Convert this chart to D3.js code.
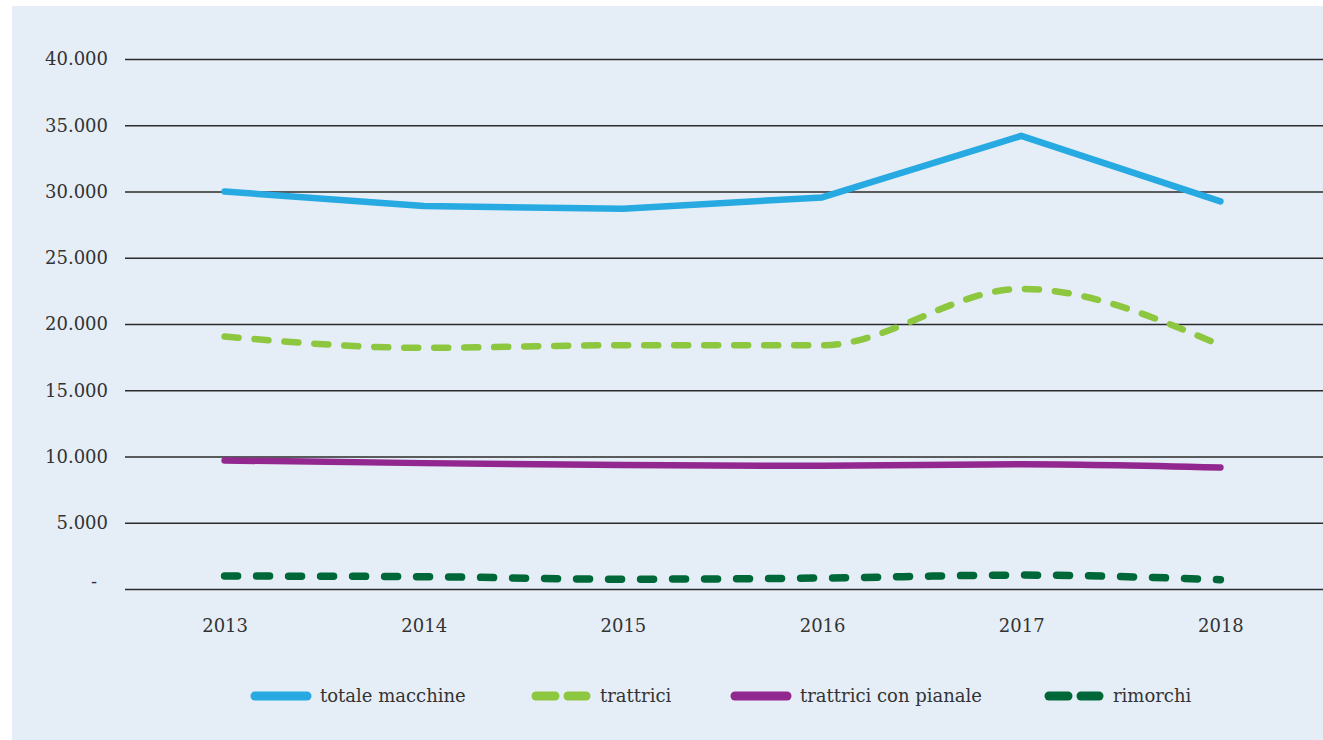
<!DOCTYPE html>
<html>
<head>
<meta charset="utf-8">
<script src="https://cdn.jsdelivr.net/npm/d3@7"></script>
<style>
  body { margin: 0; background: #fff; }
  svg { display: block; }
</style>
</head>
<body>
<div id="chart"></div>
<script>
// data
const years = ["2013", "2014", "2015", "2016", "2017", "2018"];
const totaleMacchine = [30000, 28900, 28700, 29550, 34200, 29250];
const trattrici = [19050, 18200, 18400, 18400, 22650, 18400];
const trattriciConPianale = [9700, 9500, 9350, 9300, 9420, 9170];
const rimorchi = [980, 930, 740, 830, 1050, 700];
const yTicks = [0, 5000, 10000, 15000, 20000, 25000, 30000, 35000, 40000];

const seriesNames = ["totale macchine", "trattrici", "trattrici con pianale", "rimorchi"];
const seriesValues = [totaleMacchine, trattrici, trattriciConPianale, rimorchi];
const seriesColors = ["#27aae1", "#8dc63f", "#92278f", "#006838"];
const seriesDash = [null, "14,16", null, "13,19"];

const w = 1323;
const h = 740;
const font = "'DejaVu Serif', serif";
const fontSize = "18px";

const svg = d3.select("#chart")
              .append("svg")
              .attr("width", w)
              .attr("height", h);

// light blue panel
svg.append("rect")
   .attr("x", 12)
   .attr("y", 6)
   .attr("width", w - 12)
   .attr("height", h - 6)
   .attr("fill", "#e5eef7");

const xScale = d3.scalePoint()
                 .domain(years)
                 .range([125, 1320])
                 .padding(0.5);

const yScale = d3.scaleLinear()
                 .domain([0, 40000])
                 .range([589, 59]);

const fmt = d3.formatLocale({ decimal: ",", thousands: ".", grouping: [3] }).format(",");

// gridlines + y labels
const yAxis = d3.axisLeft(yScale)
                .tickValues(yTicks)
                .tickSize(-(1323 - 125))
                .tickPadding(17)
                .tickFormat(d => d === 0 ? "-" : fmt(d));

const gy = svg.append("g")
              .attr("transform", "translate(125,0)")
              .call(yAxis);
gy.select(".domain").remove();
gy.selectAll("line").attr("stroke", "#2a2a2a").attr("stroke-width", 1.4);
gy.selectAll("text")
  .attr("fill", "#333")
  .style("font-family", font)
  .style("font-size", fontSize);
gy.selectAll(".tick")
  .filter(d => d === 0)
  .select("text")
  .attr("dx", -11)
  .attr("dy", "-0.1em");

// x labels
const xAxis = d3.axisBottom(xScale).tickSize(0).tickPadding(30);
const gx = svg.append("g")
              .attr("transform", "translate(0,589)")
              .call(xAxis);
gx.select(".domain").remove();
gx.selectAll("text")
  .attr("fill", "#333")
  .style("font-family", font)
  .style("font-size", fontSize);

// lines
const curves = [d3.curveLinear, d3.curveMonotoneX, d3.curveMonotoneX, d3.curveMonotoneX];

seriesValues.forEach((vals, i) => {
   const line = d3.line()
                  .x((d, j) => xScale(years[j]))
                  .y(d => yScale(d))
                  .curve(curves[i]);
   svg.append("path")
      .datum(vals)
      .attr("d", line)
      .attr("fill", "none")
      .attr("stroke", seriesColors[i])
      .attr("stroke-width", i === 3 ? 7.5 : 6.5)
      .attr("stroke-linecap", "round")
      .attr("stroke-linejoin", "round")
      .attr("stroke-dasharray", seriesDash[i]);
});

// legend
const legendX = [252, 532, 732, 1045];
const legend = svg.append("g").attr("transform", "translate(0,696)");
seriesNames.forEach((name, i) => {
   const x0 = legendX[i];
   if (seriesDash[i]) {
      legend.append("line")
            .attr("x1", x0 + 4).attr("x2", x0 + 23)
            .attr("stroke", seriesColors[i]).attr("stroke-width", 9)
            .attr("stroke-linecap", "round");
      legend.append("line")
            .attr("x1", x0 + 36).attr("x2", x0 + 54)
            .attr("stroke", seriesColors[i]).attr("stroke-width", 9)
            .attr("stroke-linecap", "round");
   } else {
      legend.append("line")
            .attr("x1", x0 + 3).attr("x2", x0 + 55)
            .attr("stroke", seriesColors[i]).attr("stroke-width", 9)
            .attr("stroke-linecap", "round");
   }
   legend.append("text")
         .attr("x", x0 + 68)
         .attr("y", 0)
         .attr("dy", "0.32em")
         .attr("fill", "#333")
         .style("font-family", font)
         .style("font-size", fontSize)
         .text(name);
});
</script>
</body>
</html>
